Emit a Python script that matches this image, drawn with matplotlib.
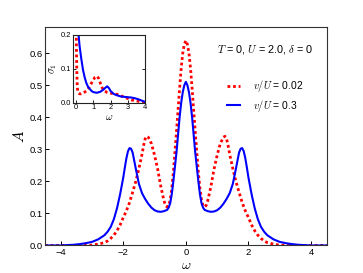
import matplotlib
matplotlib.use("Agg")
import matplotlib.pyplot as plt

plt.rcParams['font.family'] = ['Liberation Sans', 'DejaVu Sans']
plt.rcParams['mathtext.fontset'] = 'cm'

# -----------------------
# Data
# -----------------------
# spectral function A(w), v/U = 0.3 (blue, solid)
w_blue = [-4.5, -4.0, -3.8, -3.6, -3.4, -3.2, -3.0, -2.8, -2.6, -2.5, -2.4, -2.3, -2.2, -2.1,
          -2.0, -1.95, -1.9, -1.85, -1.8, -1.75, -1.7, -1.6, -1.5, -1.4, -1.3, -1.2, -1.1,
          -1.0, -0.9, -0.8, -0.7, -0.6, -0.55, -0.5, -0.45, -0.4, -0.35, -0.3, -0.25, -0.2,
          -0.15, -0.1, -0.05, 0.0, 0.05, 0.1, 0.15, 0.2, 0.25, 0.3, 0.35, 0.4, 0.45, 0.5,
          0.55, 0.6, 0.7, 0.8, 0.9, 1.0, 1.1, 1.2, 1.3, 1.4, 1.5, 1.6, 1.7, 1.75, 1.8, 1.85,
          1.9, 1.95, 2.0, 2.1, 2.2, 2.3, 2.4, 2.5, 2.6, 2.8, 3.0, 3.2, 3.4, 3.6, 3.8, 4.0, 4.5]
A_blue = [0.0, 0.0, 0.001, 0.002, 0.004, 0.007, 0.011, 0.019, 0.032, 0.043, 0.058, 0.082, 0.116, 0.160,
          0.212, 0.243, 0.272, 0.294, 0.304, 0.302, 0.290, 0.240, 0.192, 0.163, 0.145, 0.130, 0.118,
          0.110, 0.106, 0.105, 0.107, 0.111, 0.118, 0.132, 0.160, 0.200, 0.245, 0.290, 0.345, 0.400,
          0.445, 0.478, 0.500, 0.511, 0.500, 0.478, 0.445, 0.400, 0.345, 0.290, 0.245, 0.200, 0.160, 0.132,
          0.118, 0.111, 0.107, 0.105, 0.106, 0.110, 0.118, 0.130, 0.145, 0.163, 0.192, 0.240, 0.290, 0.302, 0.304, 0.294,
          0.272, 0.243, 0.212, 0.160, 0.116, 0.082, 0.058, 0.043, 0.032, 0.019, 0.011, 0.007, 0.004, 0.002, 0.001, 0.0, 0.0]

# spectral function A(w), v/U = 0.02 (red, dotted)
w_red = [-4.5, -3.3, -3.0, -2.8, -2.6, -2.5, -2.4, -2.3, -2.2, -2.1, -2.0, -1.9, -1.8, -1.7,
         -1.6, -1.5, -1.4, -1.35, -1.3, -1.25, -1.2, -1.1, -1.0, -0.9, -0.8, -0.7, -0.65, -0.6,
         -0.55, -0.5, -0.45, -0.4, -0.35, -0.3, -0.25, -0.2, -0.15, -0.1, -0.05, 0.0, 0.05, 0.1,
         0.15, 0.2, 0.25, 0.3, 0.35, 0.4, 0.45, 0.5, 0.55, 0.6, 0.65, 0.7, 0.8, 0.9, 1.0, 1.1,
         1.2, 1.25, 1.3, 1.35, 1.4, 1.5, 1.6, 1.7, 1.8, 1.9, 2.0, 2.1, 2.2, 2.3, 2.4, 2.5, 2.6,
         2.8, 3.0, 3.3, 4.5]
A_red = [0.0, 0.0, 0.001, 0.004, 0.009, 0.014, 0.022, 0.032, 0.046, 0.064, 0.087, 0.108, 0.134, 0.166,
         0.200, 0.240, 0.285, 0.312, 0.333, 0.341, 0.338, 0.318, 0.282, 0.238, 0.184, 0.140, 0.125, 0.120,
         0.124, 0.142, 0.178, 0.228, 0.290, 0.355, 0.422, 0.490, 0.552, 0.600, 0.628, 0.640, 0.628, 0.600,
         0.552, 0.490, 0.422, 0.355, 0.290, 0.228, 0.178, 0.142, 0.124, 0.120, 0.125, 0.140, 0.184, 0.238, 0.282, 0.318,
         0.338, 0.341, 0.333, 0.312, 0.285, 0.240, 0.200, 0.166, 0.134, 0.108, 0.087, 0.064, 0.046, 0.032, 0.022, 0.014, 0.009,
         0.004, 0.001, 0.0, 0.0]

# inset: optical conductivity sigma_1(w)
w_in_blue = [0.0, 0.05, 0.1, 0.15, 0.2, 0.3, 0.4, 0.5, 0.6, 0.7, 0.8, 0.9, 1.0, 1.2, 1.4, 1.6,
             1.7, 1.8, 1.9, 2.0, 2.2, 2.4, 2.6, 2.8, 3.0, 3.2, 3.4, 3.6, 3.8, 4.0]
s_in_blue = [0.30, 0.27, 0.23, 0.198, 0.168, 0.130, 0.097, 0.074, 0.057, 0.046, 0.040, 0.034, 0.031, 0.029, 0.032, 0.039,
             0.044, 0.048, 0.043, 0.034, 0.025, 0.021, 0.018, 0.017, 0.016, 0.015, 0.013, 0.010, 0.006, 0.002]
w_in_red = [0.0, 0.02, 0.04, 0.06, 0.08, 0.1, 0.15, 0.2, 0.3, 0.4, 0.5, 0.6, 0.7, 0.8, 0.9, 1.0,
            1.1, 1.2, 1.3, 1.4, 1.5, 1.6, 1.8, 2.0, 2.2, 2.4, 2.6, 2.8, 3.0, 3.2, 3.4, 3.6, 3.8, 4.0]
s_in_red = [0.50, 0.17, 0.10, 0.06, 0.042, 0.034, 0.028, 0.026, 0.026, 0.028, 0.031, 0.035, 0.041, 0.049, 0.058, 0.067,
            0.075, 0.078, 0.072, 0.058, 0.045, 0.036, 0.030, 0.028, 0.026, 0.024, 0.020, 0.016, 0.012, 0.008, 0.006, 0.004, 0.002, 0.001]

labels = [r"$v/U$ = 0.02", r"$v/U$ = 0.3"]

# -----------------------
# Figure
# -----------------------
fig = plt.figure(figsize=(3.63, 2.73), dpi=100)
ax = fig.add_axes([0.124, 0.101, 0.776, 0.801])

dot_style = dict(color='red', lw=2.0, linestyle=(0, (1, 1)))
ax.plot(w_red, A_red, label=labels[0], **dot_style)
ax.plot(w_blue, A_blue, color='blue', lw=1.5, label=labels[1])

ax.set_xlim(-4.5, 4.5)
ax.set_ylim(0, 0.683)
ax.set_xticks([-4, -2, 0, 2, 4])
ax.set_xticklabels(["\u22124", "\u22122", "0", "2", "4"])
ax.set_yticks([0.0, 0.1, 0.2, 0.3, 0.4, 0.5, 0.6])
ax.tick_params(direction='in', length=3, width=0.7, labelsize=6.8, pad=1.5)
for s in ax.spines.values():
    s.set_linewidth(0.8)
    s.set_color('#333333')
ax.set_xlabel(r"$\omega$", fontsize=10, labelpad=1)
ax.set_ylabel(r"$A$", fontsize=11, labelpad=2)

ax.text(0.61, 0.898, r"$T$ = 0, $U$ = 2.0, $\delta$ = 0", transform=ax.transAxes,
        fontsize=7.8, ha='left', va='center')
ax.legend(loc='upper left', bbox_to_anchor=(0.646, 0.765), frameon=False, fontsize=7.4,
          borderpad=0, borderaxespad=0,
          handlelength=1.3, handletextpad=1.25, labelspacing=0.35)

# inset
axin = fig.add_axes([0.2, 0.624, 0.2, 0.249])
axin.plot(w_in_red, s_in_red, **dot_style)
axin.plot(w_in_blue, s_in_blue, color='blue', lw=1.5)
axin.set_xlim(-0.2, 4.0)
axin.set_ylim(0, 0.2)
axin.set_xticks([0, 1, 2, 3, 4])
axin.set_yticks([0.0, 0.1, 0.2])
axin.tick_params(direction='in', length=2, width=0.6, labelsize=5.4, pad=1, right=True)
for s in axin.spines.values():
    s.set_linewidth(0.8)
    s.set_color('#222222')
axin.set_xlabel(r"$\omega$", fontsize=7.5, labelpad=1)
axin.set_ylabel(r"$\sigma_1$", fontsize=7.5, labelpad=1)

plt.savefig("out.png", dpi=100)
